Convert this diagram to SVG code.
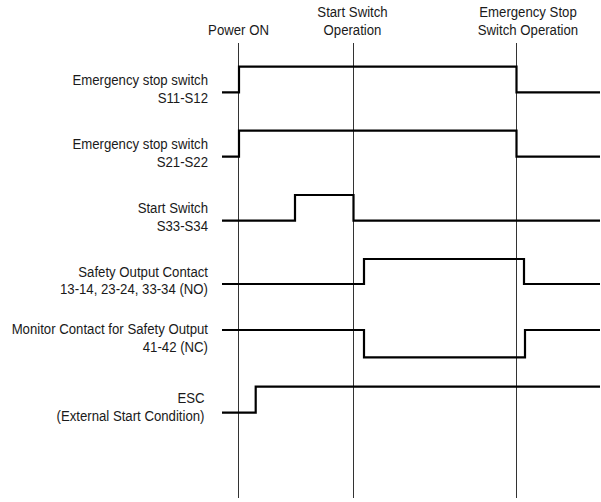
<svg xmlns="http://www.w3.org/2000/svg" width="601" height="502" viewBox="0 0 601 502">
<style>
text{font-family:"Liberation Sans",Arial,sans-serif;font-size:15px;fill:#1a1a1a}
.r{text-anchor:end}
.c{text-anchor:middle}
.v{stroke:#333;stroke-width:1;fill:none}
.w{stroke:#000;stroke-width:2.2;fill:none;stroke-linejoin:miter}
</style>
<rect width="601" height="502" fill="#fff"/>
<g id="markers">
<line class="v" x1="238.5" y1="43" x2="238.5" y2="498"/>
<line class="v" x1="353.5" y1="43" x2="353.5" y2="498"/>
<line class="v" x1="516.5" y1="43" x2="516.5" y2="498"/>
<text class="c" transform="translate(238.5,35) scale(0.88,1)">Power ON</text>
<text class="c" transform="translate(352.5,17) scale(0.88,1)">Start Switch</text>
<text class="c" transform="translate(352.5,35) scale(0.88,1)">Operation</text>
<text class="c" transform="translate(528,17) scale(0.88,1)">Emergency Stop</text>
<text class="c" transform="translate(528,35) scale(0.88,1)">Switch Operation</text>
</g>
<g id="s11">
<text class="r" transform="translate(208,85) scale(0.88,1)">Emergency stop switch</text>
<text class="r" transform="translate(208,102.7) scale(0.88,1)">S11-S12</text>
</g>
<g id="s21">
<text class="r" transform="translate(208,149) scale(0.88,1)">Emergency stop switch</text>
<text class="r" transform="translate(208,166.7) scale(0.88,1)">S21-S22</text>
</g>
<g id="s33">
<text class="r" transform="translate(208,213.3) scale(0.88,1)">Start Switch</text>
<text class="r" transform="translate(208,231) scale(0.88,1)">S33-S34</text>
</g>
<g id="safety">
<text class="r" transform="translate(208,276.7) scale(0.88,1)">Safety Output Contact</text>
<text class="r" transform="translate(208,294.3) scale(0.88,1)">13-14, 23-24, 33-34 (NO)</text>
</g>
<g id="monitor">
<text class="r" transform="translate(208,334.3) scale(0.88,1)">Monitor Contact for Safety Output</text>
<text class="r" transform="translate(208,352.3) scale(0.88,1)">41-42 (NC)</text>
</g>
<g id="esc">
<text class="r" transform="translate(204.5,403.3) scale(0.88,1)">ESC</text>
<text class="r" transform="translate(204.5,420.5) scale(0.88,1)">(External Start Condition)</text>
</g>
<g id="waveforms">
<polyline class="w" points="222,92.3 239,92.3 239,66.7 516.5,66.7 516.5,92.3 600,92.3"/>
<polyline class="w" points="222,156.7 239,156.7 239,130.7 516.5,130.7 516.5,156.7 600,156.7"/>
<polyline class="w" points="222,220.7 295,220.7 295,195 353.5,195 353.5,220.7 600,220.7"/>
<polyline class="w" points="222,284 364,284 364,259 524,259 524,284 600,284"/>
<polyline class="w" points="222,330 364,330 364,357.3 525,357.3 525,330 600,330"/>
<polyline class="w" points="222,412.7 255.7,412.7 255.7,386.7 600,386.7"/>
</g>
</svg>
